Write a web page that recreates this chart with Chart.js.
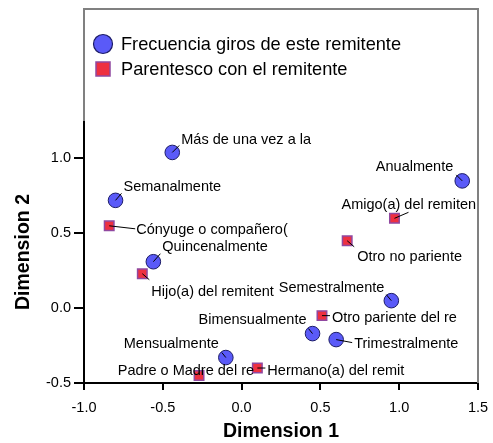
<!DOCTYPE html>
<html><head><meta charset="utf-8">
<script src="https://cdn.jsdelivr.net/npm/chart.js@4/dist/chart.umd.min.js"></script>
<style>html,body{margin:0;padding:0;background:#fff}canvas{display:block}</style>
</head><body>
<canvas id="c" width="493" height="443"></canvas>
<script>
// ---- data ----
const seriesNames = ['Frecuencia giros de este remitente', 'Parentesco con el remitente'];
const freqNames = ['Más de una vez a la', 'Semanalmente', 'Quincenalmente', 'Mensualmente', 'Bimensualmente', 'Trimestralmente', 'Semestralmente', 'Anualmente'];
const freqX = [-0.44, -0.80, -0.56, -0.10, 0.45, 0.60, 0.95, 1.40];
const freqY = [1.04, 0.72, 0.31, -0.33, -0.17, -0.21, 0.05, 0.85];
const parNames = ['Cónyuge o compañero(', 'Hijo(a) del remitent', 'Amigo(a) del remiten', 'Otro no pariente', 'Otro pariente del re', 'Hermano(a) del remit', 'Padre o Madre del re'];
const parX = [-0.84, -0.63, 0.97, 0.67, 0.51, 0.10, -0.27];
const parY = [0.55, 0.23, 0.60, 0.45, -0.05, -0.40, -0.45];
const xTicks = [-1.0, -0.5, 0.0, 0.5, 1.0, 1.5];
const yTicks = [-0.5, 0.0, 0.5, 1.0];
const xTitle = 'Dimension 1';
const yTitle = 'Dimension 2';

// ---- label placement (pixels relative to the point): [dx, dy, align, leaderDx, leaderDy] ----
const freqLabelPlace = [
  [9, -13, 'left', 7, -7],
  [8, -14, 'left', 6, -7],
  [9, -16, 'left', 7, -8],
  [-7, -15, 'right', -4, -5],
  [-6, -15, 'right', -4, -5],
  [18, 3, 'left', 16, 3],
  [-7, -14, 'right', -5, -6],
  [-9, -15, 'right', -6, -6]
];
const parLabelPlace = [
  [27, 3, 'left', 26, 3],
  [9, 17, 'left', 7, 6],
  [-53, -14, 'left', 14, -6],
  [10, 15, 'left', 7, 6],
  [10, 1, 'left', 8, 0],
  [10, 2, 'left', 8, 0],
  [55, -6, 'right', 0, 0]
];

const FONT = "'Liberation Sans', Arial, sans-serif";
const circleFill = '#5a5af8', circleBorder = '#1c1c66';
const rectFill = '#ee3040', rectBorder = '#9048a0';

const framePlugin = {
  id: 'frame',
  beforeDatasetsDraw(chart) {
    const {ctx, chartArea: a} = chart;
    ctx.save();
    ctx.strokeStyle = '#808080';
    ctx.lineWidth = 2;
    ctx.beginPath();
    ctx.moveTo(a.left, a.top);
    ctx.lineTo(a.left, 9);
    ctx.lineTo(a.right, 9);
    ctx.lineTo(a.right, a.bottom);
    ctx.stroke();
    ctx.restore();
  },
  afterDraw(chart) {
    const ctx = chart.ctx;
    ctx.save();
    // legend
    const items = [
      {y: 44, draw: () => { ctx.beginPath(); ctx.arc(103, 44, 9.5, 0, Math.PI * 2); ctx.fillStyle = circleFill; ctx.fill(); ctx.lineWidth = 1.2; ctx.strokeStyle = circleBorder; ctx.stroke(); }},
      {y: 69, draw: () => { ctx.fillStyle = rectFill; ctx.fillRect(96, 62, 14, 14); ctx.lineWidth = 1.5; ctx.strokeStyle = rectBorder; ctx.strokeRect(96, 62, 14, 14); }}
    ];
    items.forEach((it, i) => {
      it.draw();
      ctx.fillStyle = '#000';
      ctx.font = '18.2px ' + FONT;
      ctx.textAlign = 'left';
      ctx.textBaseline = 'middle';
      ctx.fillText(seriesNames[i], 121, it.y + 1);
    });
    ctx.restore();
  },
  afterDatasetsDraw(chart) {
    const ctx = chart.ctx;
    ctx.save();
    const groups = [[freqNames, freqLabelPlace, 0], [parNames, parLabelPlace, 1]];
    groups.forEach(([names, place, di]) => {
      const meta = chart.getDatasetMeta(di);
      meta.data.forEach((pt, i) => {
        const [dx, dy, align, lx, ly] = place[i];
        if (lx || ly) {
          ctx.beginPath();
          ctx.moveTo(pt.x, pt.y);
          ctx.lineTo(pt.x + lx, pt.y + ly);
          ctx.strokeStyle = '#000';
          ctx.lineWidth = 1;
          ctx.stroke();
        }
        ctx.font = '14.5px ' + FONT;
        ctx.fillStyle = '#000';
        ctx.textAlign = align;
        ctx.textBaseline = 'middle';
        ctx.fillText(names[i], pt.x + dx, pt.y + dy + 1);
      });
    });
    ctx.restore();
  }
};

new Chart(document.getElementById('c'), {
  type: 'scatter',
  data: {
    datasets: [
      {
        label: seriesNames[0],
        data: freqX.map((x, i) => ({x, y: freqY[i]})),
        pointStyle: 'circle', pointRadius: 7.3,
        backgroundColor: circleFill, borderColor: circleBorder, borderWidth: 1
      },
      {
        label: seriesNames[1],
        data: parX.map((x, i) => ({x, y: parY[i]})),
        pointStyle: 'rect', pointRadius: 6.7,
        backgroundColor: rectFill, borderColor: rectBorder, borderWidth: 1.5
      }
    ]
  },
  options: {
    responsive: false,
    animation: false,
    events: [],
    layout: {padding: {top: 121, right: 15, left: 0, bottom: 0}},
    plugins: {legend: {display: false}, tooltip: {enabled: false}},
    scales: {
      x: {
        type: 'linear', min: -1.0, max: 1.5,
        afterBuildTicks: s => { s.ticks = xTicks.map(v => ({value: v})); },
        afterFit: s => { s.height = 60; s.paddingLeft = 0; s.paddingRight = 0; },
        ticks: {callback: v => Number(v).toFixed(1), color: '#000', font: {family: FONT, size: 14.5}, padding: 9, maxRotation: 0},
        grid: {drawOnChartArea: false, tickLength: 7, color: '#000', lineWidth: 2},
        border: {color: '#000', width: 2},
        title: {display: true, text: xTitle, color: '#000', font: {family: FONT, size: 19.5, weight: 'bold'}, padding: {top: 0, bottom: 0}}
      },
      y: {
        type: 'linear', min: -0.5, max: 1.25,
        afterBuildTicks: s => { s.ticks = yTicks.map(v => ({value: v})); },
        afterFit: s => { s.width = 84; s.paddingTop = 0; s.paddingBottom = 0; },
        ticks: {callback: v => Number(v).toFixed(1), color: '#000', font: {family: FONT, size: 14.5}, padding: 3},
        grid: {drawOnChartArea: false, tickLength: 10, color: '#000', lineWidth: 2},
        border: {color: '#000', width: 2},
        title: {display: true, text: yTitle, color: '#000', font: {family: FONT, size: 19.5, weight: 'bold'}, padding: {top: 12, bottom: 0}}
      }
    }
  },
  plugins: [framePlugin]
});
</script>
</body></html>
